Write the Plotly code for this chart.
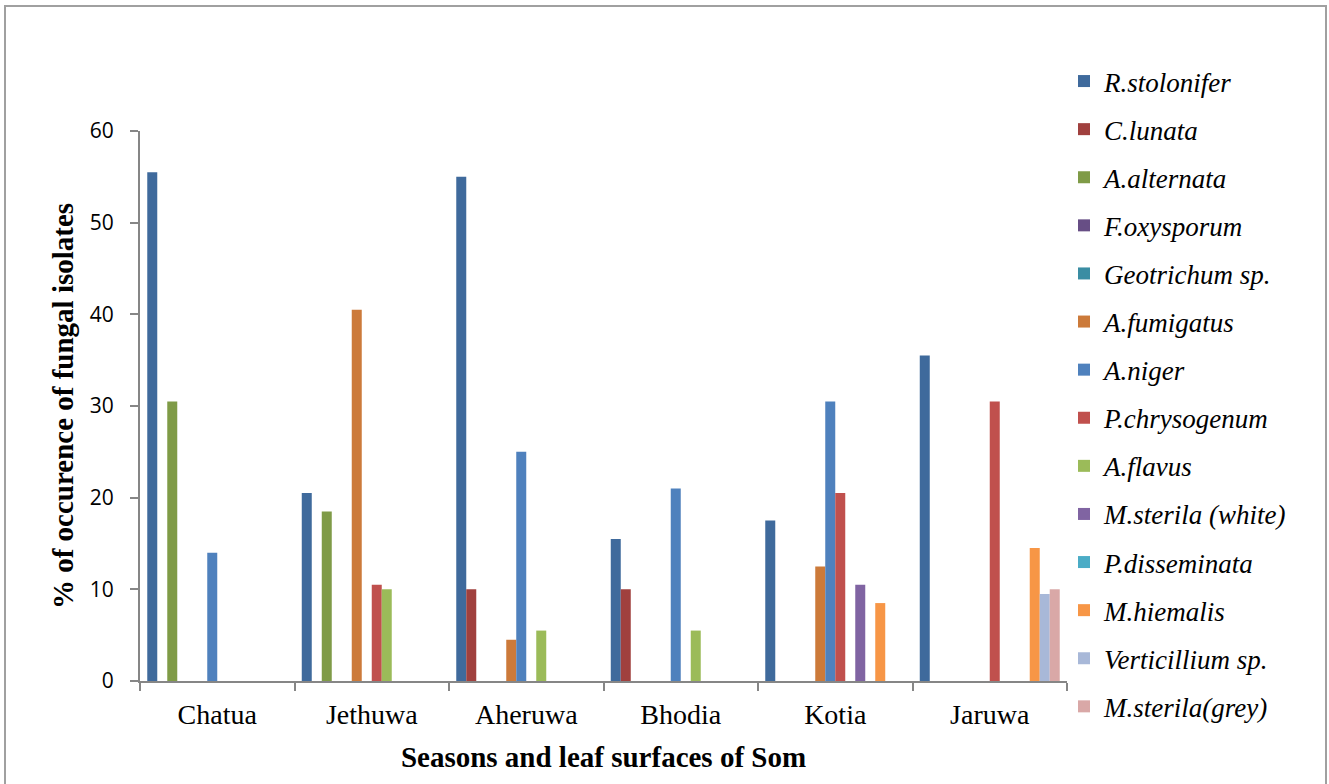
import plotly.graph_objects as go

categories = ["Chatua", "Jethuwa", "Aheruwa", "Bhodia", "Kotia", "Jaruwa"]

series_names = [
    "R.stolonifer", "C.lunata", "A.alternata", "F.oxysporum", "Geotrichum sp.",
    "A.fumigatus", "A.niger", "P.chrysogenum", "A.flavus", "M.sterila (white)",
    "P.disseminata", "M.hiemalis", "Verticillium sp.", "M.sterila(grey)",
]

r_stolonifer = [55.5, 20.5, 55.0, 15.5, 17.5, 35.5]
c_lunata = [0, 0, 10.0, 10.0, 0, 0]
a_alternata = [30.5, 18.5, 0, 0, 0, 0]
f_oxysporum = [0, 0, 0, 0, 0, 0]
geotrichum = [0, 0, 0, 0, 0, 0]
a_fumigatus = [0, 40.5, 4.5, 0, 12.5, 0]
a_niger = [14.0, 0, 25.0, 21.0, 30.5, 0]
p_chrysogenum = [0, 10.5, 0, 0, 20.5, 30.5]
a_flavus = [0, 10.0, 5.5, 5.5, 0, 0]
m_sterila_white = [0, 0, 0, 0, 10.5, 0]
p_disseminata = [0, 0, 0, 0, 0, 0]
m_hiemalis = [0, 0, 0, 0, 8.5, 14.5]
verticillium = [0, 0, 0, 0, 0, 9.5]
m_sterila_grey = [0, 0, 0, 0, 0, 10.0]

series_values = [
    r_stolonifer, c_lunata, a_alternata, f_oxysporum, geotrichum, a_fumigatus,
    a_niger, p_chrysogenum, a_flavus, m_sterila_white, p_disseminata,
    m_hiemalis, verticillium, m_sterila_grey,
]

colors = [
    "#3F6A9C", "#A0403E", "#7F9B47", "#674E85", "#3A8DA3", "#CC7A3A",
    "#4F81BD", "#C0504D", "#9BBB59", "#8064A2", "#4BACC6", "#F79646",
    "#A8B8D8", "#D9A8A7",
]

fig = go.Figure()
for i, (name, vals, col) in enumerate(zip(series_names, series_values, colors)):
    fig.add_trace(go.Bar(
        x=categories, y=vals, name=name,
        marker=dict(color=col, line=dict(width=0)),
        legendgroup=f"g{i}",
    ))

L, R, T, B = 140, 262, 131, 103
W, H = 1329, 784
pw = W - L - R
ph = H - T - B

def px_x(p):
    return (p - L) / pw

def px_y(p):
    return (H - B - p) / ph

fig.update_layout(
    width=W, height=H,
    margin=dict(l=L, r=R, t=T, b=B, autoexpand=False),
    paper_bgcolor="white", plot_bgcolor="white",
    barmode="group", bargap=0.094, bargroupgap=0,
    showlegend=True,
    legend=dict(
        xref="container", yref="container",
        x=1064 / W, y=1 - 57 / H, xanchor="left", yanchor="top",
        font=dict(family="Liberation Serif", size=27, color="black", style="italic"),
        traceorder="grouped", tracegroupgap=10,
        itemwidth=30, bgcolor="rgba(0,0,0,0)", maxheight=760,
    ),
    xaxis=dict(
        showline=True, linecolor="#868686", linewidth=2,
        ticks="outside", tickson="boundaries", ticklen=8, tickcolor="#868686", tickwidth=2,
        tickfont=dict(family="Liberation Serif", size=28, color="black"),
        ticklabelstandoff=7,
        title=dict(text="<b>Seasons and leaf surfaces of Som</b>",
                   font=dict(family="Liberation Serif", size=29, color="black"), standoff=18),
        showgrid=False, zeroline=False,
    ),
    yaxis=dict(
        range=[0, 60], dtick=10,
        showline=True, linecolor="#868686", linewidth=2,
        ticks="outside", ticklen=8, tickcolor="#868686", tickwidth=2,
        tickfont=dict(family="Open Sans", size=21, color="black"),
        ticklabelstandoff=12,
        title=dict(text="<b>% of occurence of fungal isolates</b>",
                   font=dict(family="Liberation Serif", size=29, color="black"), standoff=8),
        showgrid=False, zeroline=False,
    ),
    shapes=[dict(
        type="rect", xref="paper", yref="paper",
        x0=px_x(5), x1=px_x(1326), y0=px_y(795), y1=px_y(6),
        line=dict(color="#A0A0A0", width=2), fillcolor="rgba(0,0,0,0)", layer="below",
    )],
)

fig.write_html("out.html")
